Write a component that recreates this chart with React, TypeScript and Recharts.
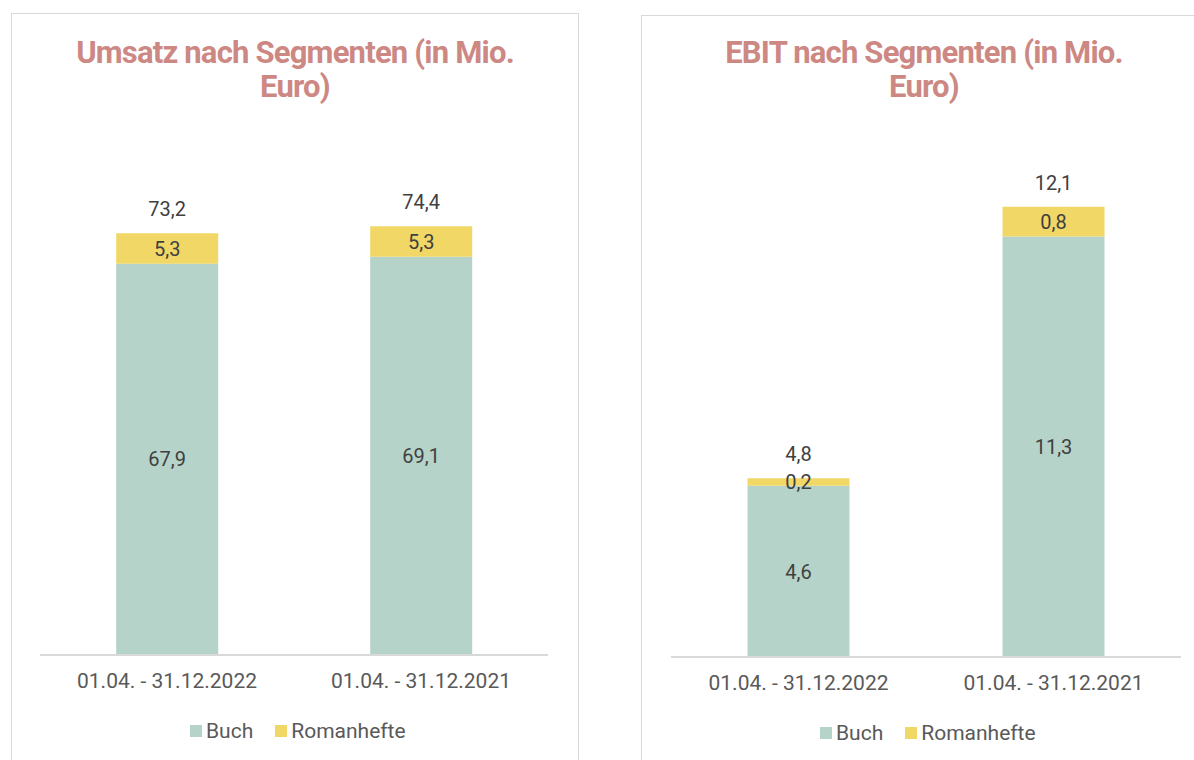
import React from 'react';
import { BarChart, Bar, XAxis, YAxis, LabelList } from 'recharts';

const categories = ['01.04. - 31.12.2022', '01.04. - 31.12.2021'];
const umsatzBuch = [67.9, 69.1];
const umsatzRoman = [5.3, 5.3];
const umsatzTotal = [73.2, 74.4];
const ebitBuch = [4.6, 11.3];
const ebitRoman = [0.2, 0.8];
const ebitTotal = [4.8, 12.1];
const seriesNames = ['Buch', 'Romanhefte'];
const seriesColors = ['#B5D3C9', '#F1D766'];

const FONT = 'Roboto, sans-serif';
const fmt = (v: number) => v.toFixed(1).replace('.', ',');

function makeData(buch: number[], roman: number[], total: number[]) {
  return categories.map((c, i) => ({ cat: c, buch: buch[i], roman: roman[i], total: total[i] }));
}

function Legend({ left, top }: { left: number; top: number }) {
  return (
    <div style={{ position: 'absolute', left, top, display: 'flex', alignItems: 'center', fontFamily: FONT, fontSize: 21, color: '#595959', lineHeight: '24px' }}>
      {seriesNames.map((n, i) => (
        <div key={n} style={{ display: 'flex', alignItems: 'center', marginRight: 22 }}>
          <div style={{ width: 12, height: 12, background: seriesColors[i], marginRight: 4 }} />
          <span>{n}</span>
        </div>
      ))}
    </div>
  );
}

function TotalLabel(props: any) {
  const { x, y, width, value } = props;
  return (
    <text x={x + width / 2} y={y - 24} textAnchor="middle" dominantBaseline="central" fontSize={20} fill="#404040" fontFamily={FONT}>
      {fmt(value)}
    </text>
  );
}

function Chart({ data, domain, left, width, margin }: any) {
  return (
    <div style={{ position: 'absolute', left, top: 0 }}>
      <BarChart width={width} height={760} data={data} margin={margin} barCategoryGap="30%">
        <XAxis dataKey="cat" axisLine={{ stroke: '#D9D9D9', strokeWidth: 2 }} tickLine={false} height={40} tickMargin={12}
          tick={{ fontSize: 21, fill: '#595959', fontFamily: FONT }} interval={0} />
        <YAxis hide domain={domain} />
        <Bar dataKey="buch" stackId="a" fill={seriesColors[0]} isAnimationActive={false}>
          <LabelList dataKey="buch" position="center" formatter={(v: any) => fmt(v)} style={{ fontSize: 20, fill: '#404040', fontFamily: FONT }} />
        </Bar>
        <Bar dataKey="roman" stackId="a" fill={seriesColors[1]} isAnimationActive={false}>
          <LabelList dataKey="roman" position="center" formatter={(v: any) => fmt(v)} style={{ fontSize: 20, fill: '#404040', fontFamily: FONT }} />
          <LabelList dataKey="total" content={TotalLabel} />
        </Bar>
      </BarChart>
    </div>
  );
}

const titleStyle: React.CSSProperties = {
  position: 'absolute', textAlign: 'center', fontFamily: FONT, fontWeight: 700, fontSize: 31,
  letterSpacing: '-0.8px', lineHeight: '34px', color: '#CD8884',
};

export default function App() {
  return (
    <div style={{ position: 'fixed', left: 0, top: 0, width: 1194, height: 760, overflow: 'hidden', background: '#fff' }}>
      <div style={{ position: 'absolute', left: 11, top: 13, width: 568, height: 800, border: '1px solid #D9D9D9', boxSizing: 'border-box' }} />
      <div style={{ position: 'absolute', left: 641, top: 15, width: 566, height: 800, border: '1px solid #D9D9D9', boxSizing: 'border-box' }} />
      <Chart data={makeData(umsatzBuch, umsatzRoman, umsatzTotal)} domain={[0, 80]} left={0} width={600}
        margin={{ left: 40, right: 52, top: 194, bottom: 65 }} />
      <Chart data={makeData(ebitBuch, ebitRoman, ebitTotal)} domain={[0, 14]} left={620} width={574}
        margin={{ left: 51, right: 13, top: 136, bottom: 63 }} />
      <div style={{ ...titleStyle, left: 11, top: 36, width: 568 }}>Umsatz nach Segmenten (in Mio.<br />Euro)</div>
      <div style={{ ...titleStyle, left: 641, top: 36, width: 566 }}>EBIT nach Segmenten (in Mio.<br />Euro)</div>
      <Legend left={190} top={719} />
      <Legend left={820} top={721} />
    </div>
  );
}
